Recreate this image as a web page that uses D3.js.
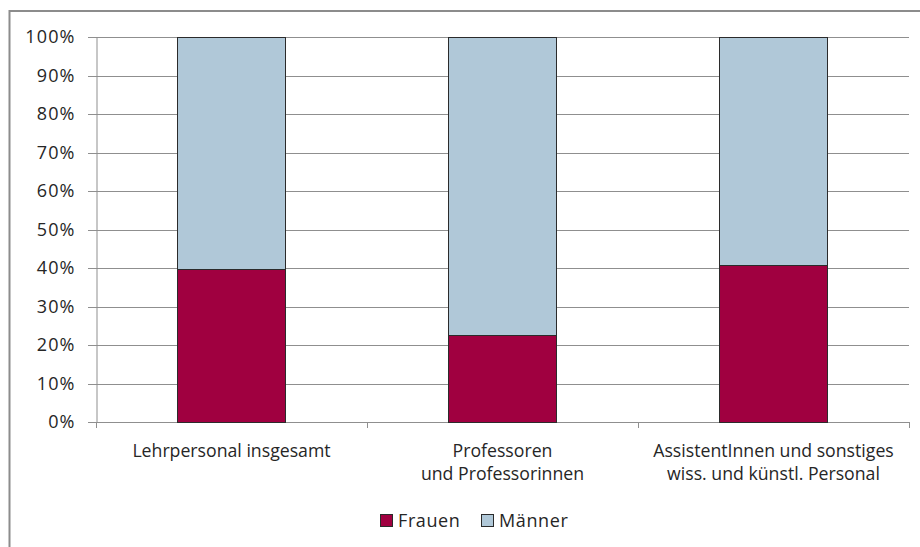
<!DOCTYPE html>
<html><head><meta charset="utf-8">
<script src="https://cdn.jsdelivr.net/npm/d3@7"></script>
<style>body{margin:0;background:#fff}svg{display:block}text{font-family:"Open Sans",Lato,sans-serif;fill:#262626}</style>
</head><body>
<svg id="c" width="920" height="547"></svg>
<script>
const categories = [["Lehrpersonal insgesamt"], ["Professoren", "und Professorinnen"], ["AssistentInnen und sonstiges", "wiss. und künstl. Personal"]];
const seriesNames = ["Frauen", "Männer"];
const frauen = [0.397, 0.226, 0.408];
const maenner = [0.603, 0.774, 0.592];
const yTicks = [0, 0.1, 0.2, 0.3, 0.4, 0.5, 0.6, 0.7, 0.8, 0.9, 1.0];
const colors = ["#A00040", "#B0C8D8"];

const svg = d3.select("#c");
const m = {l: 96, r: 909, t: 37, b: 422};
// outer frame
svg.append("rect").attr("x", 9.5).attr("y", 11).attr("width", 930).attr("height", 560)
  .attr("fill", "none").attr("stroke", "#8c8c8c").attr("stroke-width", 2);

const x = d3.scaleBand().domain(d3.range(categories.length)).range([m.l, m.r]).paddingInner(0.6).paddingOuter(0.3);
const y = d3.scaleLinear().domain([0, 1]).range([m.b, m.t]);

// gridlines
svg.append("g").selectAll("line").data(yTicks).join("line")
  .attr("x1", m.l - 8).attr("x2", m.r).attr("y1", d => Math.round(y(d)) + 0.5).attr("y2", d => Math.round(y(d)) + 0.5)
  .attr("stroke", "#8f8f8f").attr("stroke-width", 1);

// y axis
const yAxis = d3.axisLeft(y).tickValues(yTicks).tickFormat(d3.format(".0%")).tickSize(0).tickPadding(21);
const ya = svg.append("g").attr("transform", `translate(${m.l + 0.5},0)`).call(yAxis);
ya.select(".domain").attr("stroke", "#8f8f8f");
ya.selectAll("text").style("font-size", "18px").style("letter-spacing", "1.1px").attr("fill", "#262626");

// x axis baseline & ticks
const step = (m.r - m.l) / categories.length;
const bounds = d3.range(categories.length + 1).map(i => m.l + i * step);
svg.append("g").selectAll("line").data(bounds).join("line")
  .attr("x1", d => Math.round(d) + 0.5).attr("x2", d => Math.round(d) + 0.5)
  .attr("y1", m.b).attr("y2", m.b + 6).attr("stroke", "#8f8f8f");

// stacked bars
const stackData = categories.map((c, i) => ({i, Frauen: frauen[i], Männer: maenner[i]}));
const stacked = d3.stack().keys(seriesNames)(stackData);
svg.append("g").selectAll("g").data(stacked).join("g").attr("fill", (d, k) => colors[k])
  .selectAll("rect").data(d => d).join("rect")
  .attr("x", d => Math.round(x(d.data.i)) + 0.5)
  .attr("width", Math.round(x.bandwidth()))
  .attr("y", d => Math.round(y(d[1])) + 0.5)
  .attr("height", d => Math.round(y(d[0])) - Math.round(y(d[1])))
  .attr("stroke", "#2b2b2b").attr("stroke-width", 1);

// category labels
const cl = svg.append("g").selectAll("text").data(categories).join("text")
  .attr("text-anchor", "middle").style("font-size", "17.7px")
  .attr("x", (d, i) => x(i) + x.bandwidth() / 2).attr("y", 457);
cl.selectAll("tspan").data(d => d).join("tspan")
  .attr("x", function() { return this.parentNode.getAttribute("x"); })
  .attr("dy", (d, j) => j === 0 ? 0 : 23.3).text(d => d);

// legend
const legX = [380, 481];
const lg = svg.append("g").selectAll("g").data(seriesNames).join("g")
  .attr("transform", (d, i) => `translate(${legX[i]},514)`);
lg.append("rect").attr("x", 0.5).attr("y", 0.5).attr("width", 12).attr("height", 12)
  .attr("fill", (d, i) => colors[i]).attr("stroke", "#2b2b2b");
lg.append("text").attr("x", 18).attr("y", 12.8).style("font-size", "18px").style("letter-spacing", "0.6px").text(d => d);
</script>
</body></html>
